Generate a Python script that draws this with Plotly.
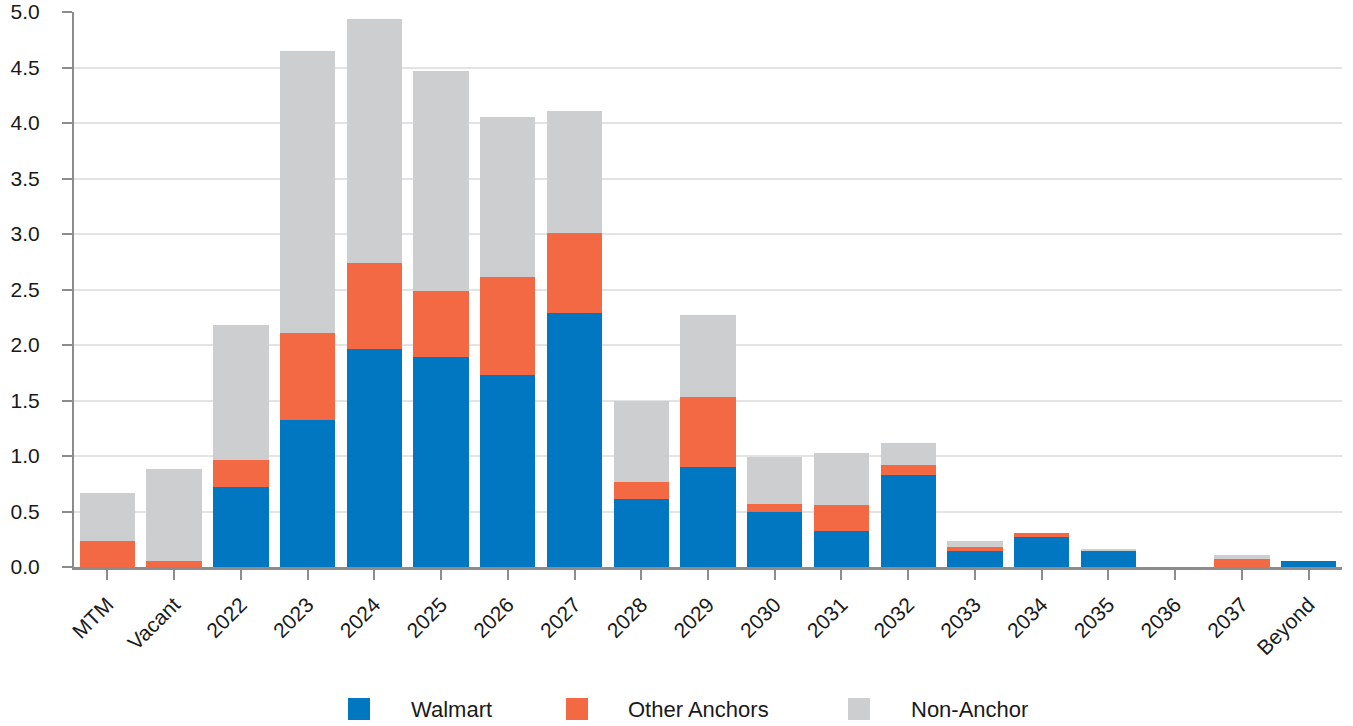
import plotly.graph_objects as go

categories = ["MTM", "Vacant", "2022", "2023", "2024", "2025", "2026", "2027", "2028",
              "2029", "2030", "2031", "2032", "2033", "2034", "2035", "2036", "2037", "Beyond"]
walmart = [0.00, 0.00, 0.72, 1.32, 1.96, 1.89, 1.73, 2.29, 0.61, 0.90, 0.50, 0.32, 0.83,
           0.14, 0.27, 0.14, 0.00, 0.00, 0.05]
other_anchors = [0.23, 0.05, 0.24, 0.79, 0.78, 0.60, 0.88, 0.72, 0.16, 0.63, 0.07, 0.24, 0.09,
                 0.04, 0.04, 0.00, 0.00, 0.07, 0.00]
non_anchor = [0.44, 0.83, 1.22, 2.54, 2.20, 1.98, 1.44, 1.10, 0.73, 0.74, 0.42, 0.47, 0.20,
              0.05, 0.00, 0.02, 0.00, 0.04, 0.00]
series_names = ["Walmart", "Other Anchors", "Non-Anchor"]
series_colors = ["#0077C0", "#F26944", "#CDCED0"]
y_ticks = [0.0, 0.5, 1.0, 1.5, 2.0, 2.5, 3.0, 3.5, 4.0, 4.5, 5.0]

FONT = "Liberation Sans, Arial, sans-serif"

fig = go.Figure()
for name, vals, col in zip(series_names, [walmart, other_anchors, non_anchor], series_colors):
    fig.add_trace(go.Bar(x=categories, y=vals, name=name, marker_color=col,
                         marker_line_width=0, showlegend=False))

fig.update_layout(
    barmode="stack",
    bargap=0.17,
    width=1353, height=726,
    margin=dict(l=74, r=11, t=12, b=159),
    plot_bgcolor="white", paper_bgcolor="white",
    font=dict(family=FONT, size=21, color="#1a1a1a"),
)
fig.update_yaxes(range=[0, 5], tickvals=y_ticks, tickformat=".1f", automargin=False,
                 showgrid=True, gridcolor="#e3e3e3", gridwidth=2,
                 showline=True, linecolor="#8c8c8c", linewidth=2,
                 ticks="outside", ticklen=10, tickwidth=2, tickcolor="#8c8c8c",
                 ticklabelstandoff=18,
                 zeroline=False, tickfont=dict(size=21, family=FONT))
fig.update_xaxes(tickangle=-45, showline=True, linecolor="#8c8c8c", linewidth=3,
                 automargin=False,
                 ticks="outside", ticklen=10, tickwidth=2, tickcolor="#8c8c8c",
                 ticklabelstandoff=4,
                 tickfont=dict(size=21, family=FONT))

# custom legend below the plot
plot_w = 1353 - 74 - 11
plot_h = 726 - 12 - 159
sq_x = [348, 566, 848]
txt_x = [409, 626, 909]
for name, col, sx, tx in zip(series_names, series_colors, sq_x, txt_x):
    fig.add_shape(type="rect", xref="paper", yref="paper",
                  x0=(sx - 74) / plot_w, x1=(sx + 22 - 74) / plot_w,
                  y0=(567 - 720) / plot_h, y1=(567 - 698) / plot_h,
                  fillcolor=col, line_width=0)
    fig.add_annotation(xref="paper", yref="paper", x=(tx - 74) / plot_w,
                       y=(567 - 709) / plot_h, text=name, showarrow=False,
                       xanchor="left", yanchor="middle",
                       font=dict(size=22, family=FONT, color="#1a1a1a"))

fig.write_html("out.html")
